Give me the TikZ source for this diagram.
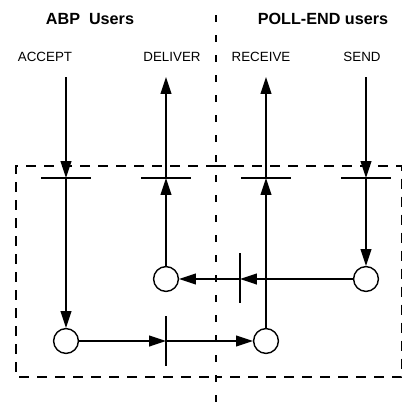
\documentclass[tikz,border=0pt]{standalone}
\usepackage{fontspec}
\setmainfont{Liberation Sans}
\usetikzlibrary{arrows.meta}

\begin{document}
\begin{tikzpicture}[x=0.025cm,y=-0.025cm,line width=1pt,
  tip/.style={-{Triangle[length=0.42cm,width=0.27cm]}},
  place/.style={circle,draw,minimum size=0.62cm,inner sep=0pt},
  boxline/.style={dash pattern=on 0.25cm off 0.2cm},
  divline/.style={dash pattern=on 0.17cm off 0.33cm},
  user/.style={font=\fontsize{9.5}{11}\selectfont},
  group/.style={font=\bfseries\fontsize{11.5}{14}\selectfont}]
\useasboundingbox (0,0) rectangle (403,403);

% the two user sides
\node[group] (abp) at (90,19) {ABP\ \ Users};
\node[group] (poll) at (323,19) {POLL-END users};
\node[user] (accept) at (45,57) {ACCEPT};
\node[user] (deliver) at (172,57) {DELIVER};
\node[user] (receive) at (261,57) {RECEIVE};
\node[user] (send) at (362,57) {SEND};

\draw[divline] (216,15) -- (216,403);
\draw[boxline] (216,166) -- (16,166) -- (16,377) -- (216,377);
\draw[boxline] (216,166) -- (401.5,166) -- (401.5,377) -- (216,377);

% places
\node[place] (pa) at (66,341) {};
\node[place] (pd) at (166,279) {};
\node[place] (pr) at (266,341) {};
\node[place] (ps) at (366,279) {};

\coordinate (ta) at (66,77);
\coordinate (td) at (166,77);
\coordinate (tr) at (266,77);
\coordinate (ts) at (366,77);
\coordinate (ba) at (66,178);
\coordinate (bd) at (166,178);
\coordinate (br) at (266,178);
\coordinate (bs) at (366,178);
\coordinate (bsd) at (240,279);
\coordinate (bar) at (166,341);

% transitions
\foreach \b in {ba,bd,br,bs}
  \draw (\b) +(-25,0) -- +(25,0);
\draw (bsd) +(0,-26) -- +(0,24);
\draw (bar) +(0,-25) -- +(0,25);

\draw[tip] (ta) -- (ba);
\draw[tip] (ba) -- (pa);
\draw[tip] (pd) -- (bd);
\draw[tip] (bd) -- (td);
\draw[tip] (pr) -- (br);
\draw[tip] (br) -- (tr);
\draw[tip] (ts) -- (bs);
\draw[tip] (bs) -- (ps);
\draw[tip] (ps) -- (bsd);
\draw[tip] (bsd) -- (pd);
\draw[tip] (pa) -- (bar);
\draw[tip] (bar) -- (pr);
\end{tikzpicture}
\end{document}
